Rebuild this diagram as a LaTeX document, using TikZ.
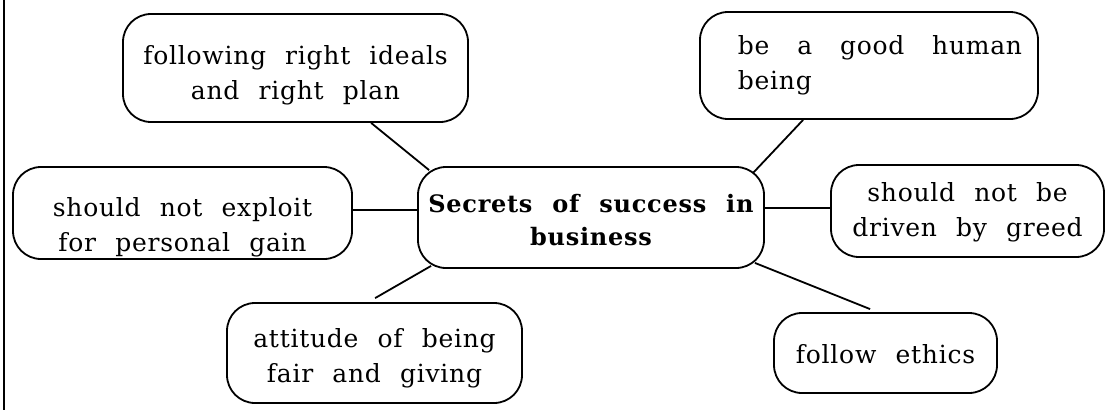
\documentclass[tikz,border=0pt]{standalone}
\usepackage{fontspec}
\setmainfont{DejaVu Serif}[LetterSpace=3,WordSpace=2.2]
\newfontfamily\widefont{DejaVu Serif}[LetterSpace=3,WordSpace=3.2]
\usetikzlibrary{calc}
\begin{document}
\begin{tikzpicture}[x=1pt,y=-1pt,
  box/.style={draw, line width=1.8pt, rounded corners=28pt, inner sep=0pt},
  txt/.style={inner sep=0pt, align=center, font=\fontsize{25}{35}\selectfont},
  conn/.style={line width=1.8pt}]
\useasboundingbox (0,0) rectangle (1107,410);
\draw[conn] (4,0) -- (4,410);
\node[box, minimum width=345pt, minimum height=108pt] (fri) at (295.5,68) {};
\node[txt] (fri-t) at ($(fri.center)+(0,7)$) {following right ideals\\and right plan};
\node[box, minimum width=338pt, minimum height=107pt] (good) at (869,65.5) {};
\node[txt, align=left, font=\widefont\fontsize{25}{35}\selectfont] (good-t) at ($(good.center)+(11,0)$) {be a good human\\being};
\node[box, minimum width=346pt, minimum height=101pt] (ctr) at (591,217.5) {};
\node[txt, font=\fontsize{24}{33}\selectfont\bfseries] (ctr-t) at ($(ctr.center)+(0,3)$) {Secrets of success in\\business};
\node[box, minimum width=339pt, minimum height=92pt] (expl) at (182.5,213) {};
\node[txt] (expl-t) at ($(expl.center)+(0,14)$) {should not exploit\\for personal gain};
\node[box, minimum width=273pt, minimum height=92pt] (greed) at (967.5,211) {};
\node[txt] (greed-t) at ($(greed.center)+(0,1)$) {should not be\\driven by greed};
\node[box, minimum width=295pt, minimum height=100pt] (att) at (374.5,353) {};
\node[txt] (att-t) at ($(att.center)+(0,5)$) {attitude of being\\fair and giving};
\node[box, minimum width=223pt, minimum height=80pt] (eth) at (885.5,353) {};
\node[txt] (eth-t) at ($(eth.center)+(0,1)$) {follow ethics};
\draw[conn] ($(fri.south west)+(249,0)$) -- ($(ctr.north west)+(12,4)$);
\draw[conn] ($(good.south west)+(104,0)$) -- ($(ctr.north east)+(-12,7)$);
\coordinate (e1) at ($(expl.east)+(0,-3)$);
\draw[conn] (e1) -- (e1 -| ctr.west);
\coordinate (g1) at ($(greed.west)+(0,-3)$);
\draw[conn] (g1 -| ctr.east) -- (g1);
\draw[conn] ($(ctr.south west)+(14,-3)$) -- ($(att.north west)+(149,-4)$);
\draw[conn] ($(ctr.south east)+(-10,-6)$) -- ($(eth.north west)+(97,-3)$);
\end{tikzpicture}
\end{document}
